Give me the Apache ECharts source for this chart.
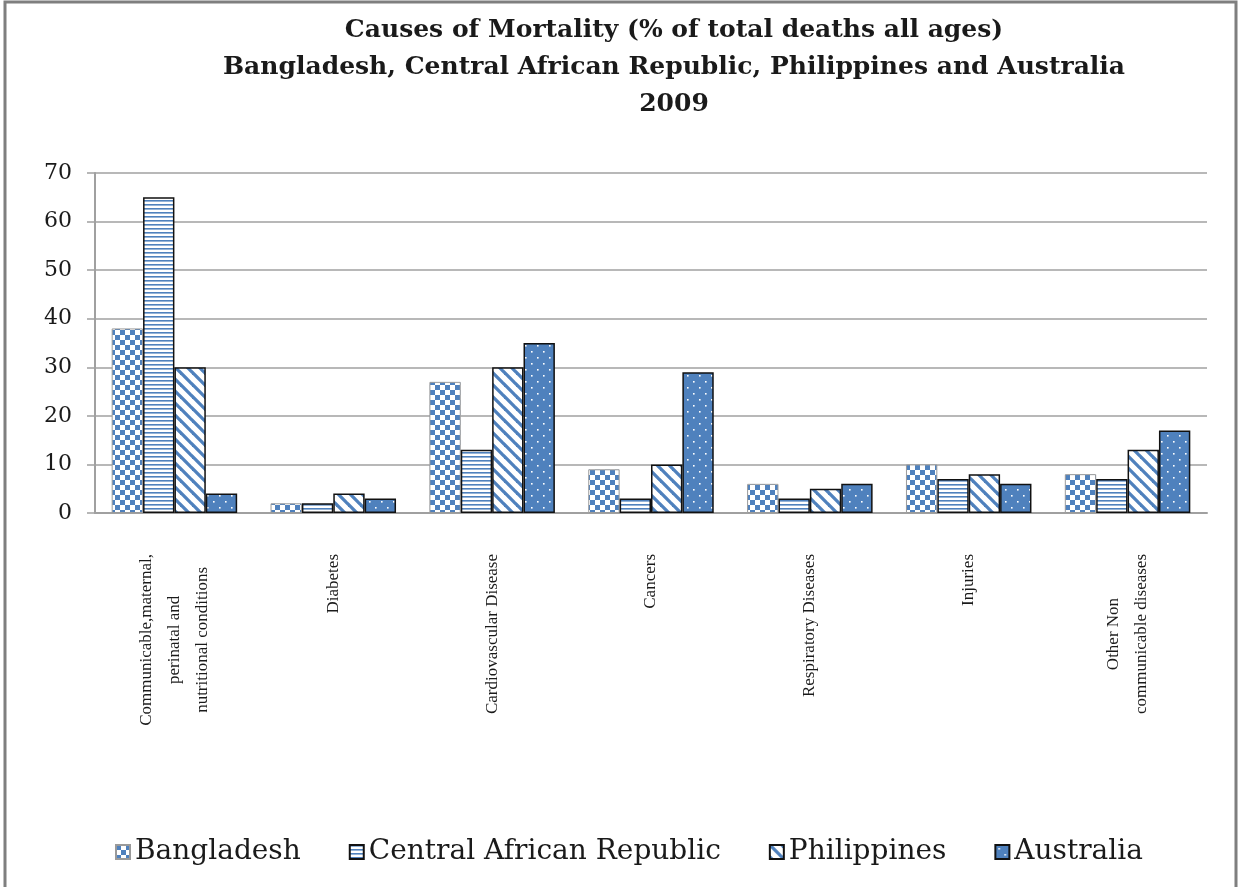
<!DOCTYPE html>
<html>
<head>
<meta charset="utf-8">
<script src="https://cdn.jsdelivr.net/npm/echarts@6/dist/echarts.min.js"></script>
<style>
  html, body { margin: 0; padding: 0; background: #ffffff; }
  #chart { width: 1240px; height: 887px; }
</style>
</head>
<body>
<div id="chart"></div>
<script>
// Causes of mortality, % of total deaths (all ages), 2009
const categories = [
  'Communicable,maternal,\nperinatal and\nnutritional conditions',
  'Diabetes',
  'Cardiovascular Disease',
  'Cancers',
  'Respiratory Diseases',
  'Injuries',
  'Other Non\ncommunicable diseases'
];
const countries = ['Bangladesh', 'Central African Republic', 'Philippines', 'Australia'];
const bangladesh  = [38, 2, 27, 9, 6, 10, 8];
const centralAfr  = [65, 2, 13, 3, 3, 7, 7];
const philippines = [30, 4, 30, 10, 5, 8, 13];
const australia   = [4, 3, 35, 29, 6, 6, 17];
const yMin = 0, yMax = 70, yStep = 10;

const BLUE = '#4f81bd';

// ---- fill patterns -------------------------------------------------------
function tile(w, h, draw) {
  const c = document.createElement('canvas');
  c.width = w; c.height = h;
  draw(c.getContext('2d'), w, h);
  return c;
}
const checker = tile(10, 10, (g) => {
  g.fillStyle = '#fff'; g.fillRect(0, 0, 10, 10);
  g.fillStyle = BLUE; g.fillRect(0, 0, 5, 5); g.fillRect(5, 5, 5, 5);
});
const hStripes = tile(4, 4, (g) => {
  g.fillStyle = '#fff'; g.fillRect(0, 0, 4, 4);
  g.fillStyle = BLUE; g.fillRect(0, 0, 4, 1.6);
});
const diagStripes = tile(12, 12, (g) => {
  g.fillStyle = '#fff'; g.fillRect(0, 0, 12, 12);
  g.strokeStyle = BLUE; g.lineWidth = 3.3;
  for (const o of [-12, 0, 12]) {
    g.beginPath(); g.moveTo(o - 2, -2); g.lineTo(o + 14, 14); g.stroke();
  }
});
const dots = tile(12, 12, (g) => {
  g.fillStyle = BLUE; g.fillRect(0, 0, 12, 12);
  g.fillStyle = '#ffffff';
  g.fillRect(3, 3, 1.6, 1.6); g.fillRect(9, 9, 1.6, 1.6);
});
const pat = (c) => ({ image: c, repeat: 'repeat' });

const seriesStyles = [
  { fill: pat(checker),     border: '#9a9a9a', width: 1 },
  { fill: pat(hStripes),    border: '#111111', width: 1.5 },
  { fill: pat(diagStripes), border: '#111111', width: 1.5 },
  { fill: pat(dots),        border: '#111111', width: 1.5 }
];
const seriesData = [bangladesh, centralAfr, philippines, australia];

const chart = echarts.init(document.getElementById('chart'), null, { renderer: 'canvas' });

const option = {
  backgroundColor: '#ffffff',
  animation: false,
  title: {
    text: 'Causes of Mortality (% of total deaths all ages)\nBangladesh, Central African Republic, Philippines and Australia\n2009',
    left: 669,
    top: 7,
    textAlign: 'center',
    textStyle: {
      fontFamily: 'DejaVu Serif',
      fontWeight: 'bold',
      fontSize: 25,
      lineHeight: 37,
      color: '#1a1a1a'
    }
  },
  legend: {
    data: countries,
    left: 110,
    top: 833,
    icon: 'rect',
    itemWidth: 14,
    itemHeight: 14,
    itemGap: 48,
    textStyle: { fontFamily: 'DejaVu Serif', fontSize: 28, color: '#1a1a1a' }
  },
  grid: { left: 95, right: 33, top: 173, bottom: 374 },
  xAxis: {
    type: 'category',
    data: categories,
    axisLine: { show: true, lineStyle: { color: '#a0a0a0', width: 2 } },
    axisTick: { show: false },
    axisLabel: {
      interval: 0,
      rotate: 90,
      margin: 41,
      color: '#1a1a1a',
      formatter: (v) => v.split('\n').map((l) => '{c|' + l + '}').join('\n'),
      rich: {
        c: { align: 'center', fontFamily: 'Liberation Serif', fontSize: 17, lineHeight: 28, color: '#1a1a1a' }
      }
    }
  },
  yAxis: {
    type: 'value',
    min: yMin,
    max: yMax,
    interval: yStep,
    axisLine: { show: true, lineStyle: { color: '#a0a0a0', width: 2 } },
    axisTick: { show: true, length: 8, lineStyle: { color: '#a0a0a0', width: 1.5 } },
    axisLabel: { margin: 23, fontFamily: 'DejaVu Serif', fontSize: 22, color: '#1a1a1a' },
    splitLine: { show: true, lineStyle: { color: '#a0a0a0', width: 1.5 } }
  },
  series: countries.map((name, i) => ({
    name,
    type: 'bar',
    data: seriesData[i],
    barGap: 0,
    barCategoryGap: '21%',
    itemStyle: {
      color: seriesStyles[i].fill,
      borderColor: seriesStyles[i].border,
      borderWidth: seriesStyles[i].width
    }
  })),
  graphic: [{
    type: 'rect',
    shape: { x: 5, y: 2, width: 1231, height: 900 },
    style: { fill: 'none', stroke: '#7f7f7f', lineWidth: 3 },
    silent: true
  }]
};

chart.setOption(option);
</script>
</body>
</html>
